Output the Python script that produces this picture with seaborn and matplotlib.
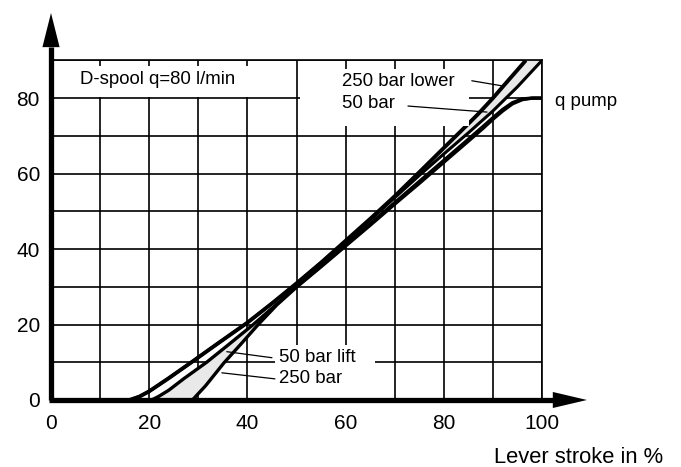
import numpy as np
import pandas as pd
import matplotlib
matplotlib.use("Agg")
import matplotlib.pyplot as plt
from matplotlib.patches import Polygon, Rectangle
import seaborn as sns

# ---- data (lever stroke in %, flow in l/min) ----
stroke_lower_250 = [16, 18, 20, 24, 28.6, 34, 40, 45, 50, 55, 60, 65, 70, 75.5, 80, 85, 87, 90, 93, 96.7]
flow_lower_250 = [0, 0.9, 2.3, 5.8, 10, 15, 20.5, 25.6, 30.9, 36.4, 42.2, 48, 54, 61, 66.8, 73.2, 75.8, 80, 84.5, 90]

stroke_lower_50 = [16, 18, 20, 24, 28.6, 34, 40, 45, 50, 55, 60, 65, 70, 75, 80, 85, 90, 95, 100]
flow_lower_50 = [0, 0.9, 2.3, 5.8, 10, 15, 20.5, 25.6, 30.9, 36.4, 42, 47.7, 53.6, 59.5, 65.2, 70.8, 76.6, 83, 90]

stroke_lift_50 = [20.5, 22, 24, 27, 31.7, 36, 41.2, 45, 50, 55, 60, 65, 70, 75, 80, 85, 88, 90, 92, 94, 96, 98, 100]
flow_lift_50 = [0, 1, 2.6, 5.6, 10, 14.5, 20, 24.3, 30, 35.5, 41.1, 46.7, 52.3, 57.9, 63.5, 69.1, 72.5, 74.8, 77, 78.8, 79.8, 80, 80]

stroke_lift_250 = [28.8, 31.5, 35.2, 38.8, 42.2, 46, 50, 55, 60, 65, 70, 75, 80, 85, 88, 90, 92, 94, 96, 98, 100]
flow_lift_250 = [0, 3.8, 9.8, 15, 20, 25.2, 29.9, 35.3, 40.8, 46.3, 51.9, 57.4, 63, 68.6, 72, 74.4, 76.6, 78.5, 79.6, 80, 80]

x_ticks = [0, 10, 20, 30, 40, 50, 60, 70, 80, 90, 100]
x_tick_labels = ["0", "", "20", "", "40", "", "60", "", "80", "", "100"]
y_ticks = [0, 10, 20, 30, 40, 50, 60, 70, 80, 90]
y_tick_labels = ["0", "", "20", "", "40", "", "60", "", "80", ""]

title_text = "D-spool q=80 l/min"
x_label = "Lever stroke in %"

sns.set_theme(style="white")
plt.rcParams["font.family"] = ["Liberation Sans", "DejaVu Sans"]

fig = plt.figure(figsize=(6.81, 4.67), dpi=100)
ax = fig.add_axes([0.0749, 0.1435, 0.7210, 0.7272])
ax.set_xlim(0, 100)
ax.set_ylim(0, 90)

# grid
ax.set_xticks(x_ticks)
ax.set_xticklabels(x_tick_labels)
ax.set_yticks(y_ticks)
ax.set_yticklabels(y_tick_labels)
ax.grid(True, color="black", linewidth=1.2, zorder=1)
ax.set_axisbelow(True)
ax.tick_params(axis="both", length=0, labelsize=15, colors="black")
ax.tick_params(axis="x", pad=10)
ax.tick_params(axis="y", pad=8)
for s in ["left", "bottom"]:
    ax.spines[s].set_visible(False)
for s in ["top", "right"]:
    ax.spines[s].set_visible(True)
    ax.spines[s].set_color("black")
    ax.spines[s].set_linewidth(1.2)

# shaded bands
ls50 = np.array(stroke_lift_50); lf50 = np.array(flow_lift_50)
ls250 = np.array(stroke_lift_250); lf250 = np.array(flow_lift_250)
m1 = ls50 <= 50; m2 = ls250 <= 50
band_lift = np.vstack([np.column_stack([ls50[m1], lf50[m1]]),
                       np.column_stack([ls250[m2], lf250[m2]])[::-1]])
ax.add_patch(Polygon(band_lift, closed=True, facecolor="#e9e9e9", edgecolor="none", zorder=1.5))

lo250x = np.array(stroke_lower_250); lo250y = np.array(flow_lower_250)
lo50x = np.array(stroke_lower_50); lo50y = np.array(flow_lower_50)
m3 = lo250x >= 75; m4 = lo50x >= 75
band_lower = np.vstack([np.column_stack([lo250x[m3], lo250y[m3]]),
                        np.column_stack([lo50x[m4], lo50y[m4]])[::-1]])
ax.add_patch(Polygon(band_lower, closed=True, facecolor="#e9e9e9", edgecolor="none", zorder=1.5))

# curves via seaborn
curves = [
    ("lower 250", stroke_lower_250, flow_lower_250, 2.8),
    ("lower 50", stroke_lower_50, flow_lower_50, 2.2),
    ("lift 50", stroke_lift_50, flow_lift_50, 2.4),
    ("lift 250", stroke_lift_250, flow_lift_250, 2.4),
]
for name, xs, ys, lw in curves:
    df = pd.DataFrame({"stroke": xs, "flow": ys})
    sns.lineplot(data=df, x="stroke", y="flow", ax=ax, color="black", linewidth=lw,
                 estimator=None, sort=False, zorder=3, solid_capstyle="butt")
ax.set_xlabel("")
ax.set_ylabel("")

# white label boxes covering the grid
for (x0, y0, w, h) in [(0.6, 80.4, 47.4, 8.2), (50.7, 72.7, 34.5, 15.1), (45.6, 0.6, 20.4, 14.1)]:
    ax.add_patch(Rectangle((x0, y0), w, h, facecolor="white", edgecolor="none", zorder=4))

# labels and leaders
fs = 13.4
ax.text(5.9, 85.0, title_text, fontsize=fs, ha="left", va="center", zorder=5, color="black")
ax.text(59.2, 84.3, "250 bar lower", fontsize=fs, ha="left", va="center", zorder=5, color="black")
ax.text(59.2, 78.5, "50 bar", fontsize=fs, ha="left", va="center", zorder=5, color="black")
ax.text(102.6, 79.0, "q pump", fontsize=fs, ha="left", va="center", zorder=5, color="black", clip_on=False)
ax.text(46.4, 11.2, "50 bar lift", fontsize=fs, ha="left", va="center", zorder=5, color="black")
ax.text(46.4, 5.8, "250 bar", fontsize=fs, ha="left", va="center", zorder=5, color="black")
for (xa, ya, xb, yb) in [(85.7, 84.6, 92.1, 83.2), (72.7, 77.9, 88.8, 76.3),
                         (45.0, 11.2, 35.8, 12.8), (45.6, 5.6, 34.8, 7.2)]:
    ax.plot([xa, xb], [ya, yb], color="black", linewidth=0.9, zorder=6)

# thick axes with arrow heads
tr = ax.transAxes
ax.plot([0, 0], [0, 1.04], color="black", linewidth=3.8, transform=tr, clip_on=False,
        zorder=7, solid_capstyle="butt")
ax.plot([-0.004, 1.03], [0, 0], color="black", linewidth=3.8, transform=tr, clip_on=False,
        zorder=7, solid_capstyle="butt")
ax.add_patch(Polygon([[-0.0175, 1.039], [0.0175, 1.039], [0, 1.1396]], closed=True,
                     transform=tr, clip_on=False, facecolor="black", edgecolor="none", zorder=8))
ax.add_patch(Polygon([[1.022, -0.0236], [1.022, 0.0236], [1.0916, 0]], closed=True,
                     transform=tr, clip_on=False, facecolor="black", edgecolor="none", zorder=8))

fig.text(0.9736, 0.0214, x_label, fontsize=15.8, ha="right", va="center", color="black")

fig.savefig("out.png", dpi=100)
